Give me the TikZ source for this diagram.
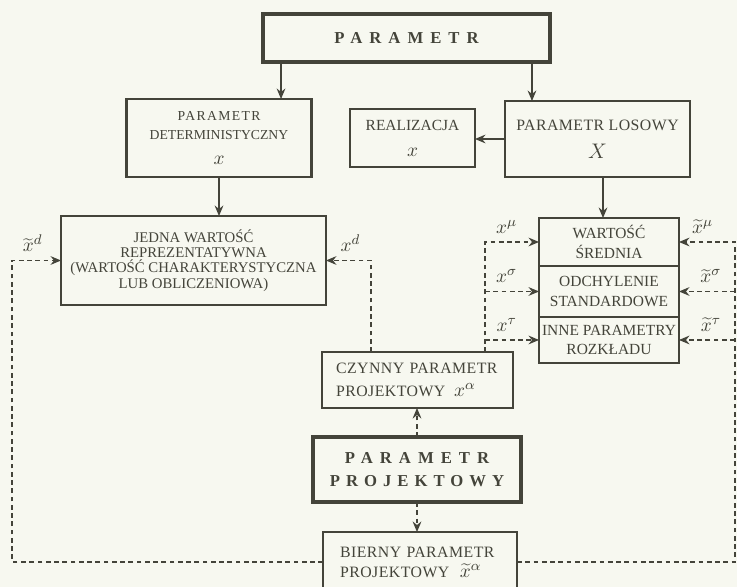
\documentclass[tikz,border=0pt]{standalone}
\usepackage{fontspec}
\setmainfont{Liberation Serif}
\newfontfamily\spacedbf[LetterSpace=42]{Liberation Serif}
\newfontfamily\spaced[LetterSpace=3]{Liberation Serif}
\usepackage{tikz}
\usetikzlibrary{arrows.meta, positioning}

\definecolor{ink}{RGB}{68,68,58}
\definecolor{paper}{RGB}{247,248,240}

\begin{document}
\begin{tikzpicture}[x=0.02cm, y=-0.02cm,
    box/.style={rectangle, draw=ink, text=ink, line width=0.8pt, inner sep=0pt, outer sep=0pt, align=center},
    boldbox/.style={box, line width=1.4pt},
    heavybox/.style={box, line width=2.6pt},
    arr/.style={draw=ink, line width=0.7pt, -{Stealth[length=6pt, width=5pt, inset=2pt]}},
    darr/.style={arr, dash pattern=on 2.7pt off 2pt},
    lbl/.style={text=ink, inner sep=2pt, font=\fontsize{11}{11}\selectfont}]
        \useasboundingbox (0,0) rectangle (737,587);
        \fill[paper] (0,0) rectangle (737,587);

        \node[heavybox, line width=2.3pt, minimum width=5.74cm, minimum height=0.96cm, font=\spacedbf\bfseries\fontsize{9.5}{12}\selectfont] (par) at (406.5,38) {PARAMETR};
        \node[boldbox, minimum width=3.7cm, minimum height=1.56cm, font=\fontsize{7.8}{10.8}\selectfont] (det) at (219,138) {{\addfontfeature{LetterSpace=10}PARAMETR}\\DETERMINISTYCZNY\\[3pt]{\fontsize{11}{11}\selectfont$x$}};
        \node[boldbox, minimum width=3.7cm, minimum height=1.52cm, font=\spaced\fontsize{9}{16}\selectfont] (los) at (597.5,139) {PARAMETR LOSOWY\\{\fontsize{12}{12}\selectfont$X$}};
        \node[box, minimum width=2.5cm, minimum height=1.16cm, font=\fontsize{8.8}{14.7}\selectfont] (real) at (412.5,138) {REALIZACJA\\{\fontsize{11}{11}\selectfont$x$}};
        \node[box, minimum width=5.3cm, minimum height=1.78cm, font=\fontsize{8.4}{8.8}\selectfont] (jed) at (193.5,260.5) {JEDNA WARTOŚĆ\\REPREZENTATYWNA\\(WARTOŚĆ CHARAKTERYSTYCZNA\\LUB OBLICZENIOWA)};

        \node[box, minimum width=2.8cm, minimum height=0.96cm, font=\fontsize{8.8}{11}\selectfont] (sr) at (609,242) {WARTOŚĆ\\ŚREDNIA};
        \node[box, minimum width=2.8cm, minimum height=1.02cm, font=\fontsize{8.8}{11}\selectfont] (odch) [below = 0cm of sr] {ODCHYLENIE\\STANDARDOWE};
        \node[box, minimum width=2.8cm, minimum height=0.92cm, font=\fontsize{8.8}{11}\selectfont] (inne) [below = 0cm of odch] {INNE PARAMETRY\\ROZKŁADU};

        \node[boldbox, line width=1.2pt, minimum width=3.82cm, minimum height=1.12cm, text width=3.26cm, align=left, font=\spaced\fontsize{9}{13}\selectfont] (czy) at (417.5,380) {CZYNNY PARAMETR\\PROJEKTOWY\hspace{5pt}{\fontsize{11}{11}\selectfont$x^{\alpha}$}};
        \node[heavybox, minimum width=4.16cm, minimum height=1.3cm, font=\spacedbf\bfseries\fontsize{9.5}{13}\selectfont] (proj) at (417,469.5) {PARAMETR\\{\addfontfeature{LetterSpace=36}PROJEKTOWY}};
        \node[box, line width=1.1pt, minimum width=3.88cm, minimum height=1.2cm, text width=3.2cm, align=left, font=\spaced\fontsize{9}{11.3}\selectfont] (bier) at (420,562) {BIERNY PARAMETR\\PROJEKTOWY\hspace{6pt}{\fontsize{11}{11}\selectfont$\widetilde{x}^{\alpha}$}};

        \coordinate (par-l) at ([xshift=0.36cm]par.south west);
        \coordinate (par-r) at ([xshift=-0.36cm]par.south east);
        \coordinate (los-b) at ([xshift=0.11cm]los.south);
        \coordinate (czy-d) at ([xshift=0.98cm]czy.north west);
        \coordinate (czy-s) at ([xshift=3.26cm]czy.north west);
        \coordinate (lft) at (12,562);
        \coordinate (rgt) at (735,562);

        \draw[arr] (par-l) -- (par-l |- det.north);
        \draw[arr] (par-r) -- (par-r |- los.north);
        \draw[arr] (los.west) -- (los.west -| real.east);
        \draw[arr] (los-b) -- (los-b |- sr.north);
        \draw[arr] (det.south) -- (det.south |- jed.north);

        \draw[darr] (czy-d) |- node[lbl, pos=0.73, above=2.5pt] {$x^{d}$} (jed.east);
        \draw[darr] (czy-s) |- node[lbl, pos=0.7, above=2.5pt] {$x^{\mu}$} (sr.west);
        \draw[darr] (czy-s |- odch.west) -- node[lbl, pos=0.4, above=2.5pt] {$x^{\sigma}$} (odch.west);
        \draw[darr] (czy-s |- inne.west) -- node[lbl, pos=0.4, above=2.5pt] {$x^{\tau}$} (inne.west);

        \draw[darr] (bier.west) -- (lft) |- node[lbl, pos=0.71, above=2.5pt] {$\widetilde{x}^{d}$} (jed.west);
        \draw[darr] (bier.east) -- (rgt) |- node[lbl, pos=0.79, above=2.5pt] {$\widetilde{x}^{\mu}$} (sr.east);
        \draw[darr] (rgt |- odch.east) -- node[lbl, pos=0.43, above=2.5pt] {$\widetilde{x}^{\sigma}$} (odch.east);
        \draw[darr] (rgt |- inne.east) -- node[lbl, pos=0.43, above=2.5pt] {$\widetilde{x}^{\tau}$} (inne.east);

        \draw[darr] (proj.north) -- (proj.north |- czy.south);
        \draw[darr] (proj.south) -- (proj.south |- bier.north);
    \end{tikzpicture}
\end{document}
